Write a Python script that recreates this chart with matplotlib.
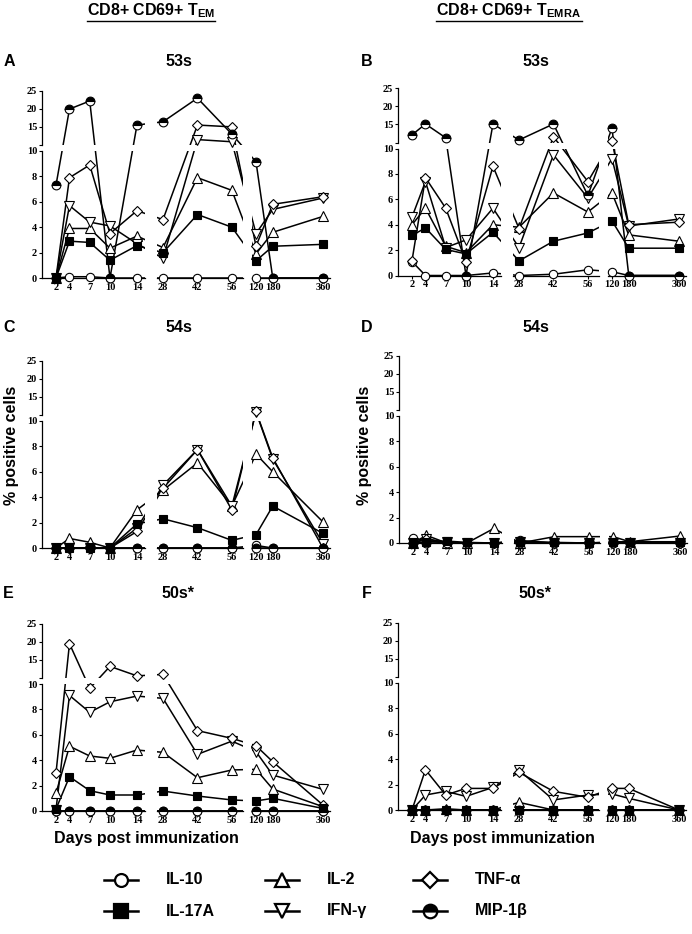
import numpy as np
import matplotlib
matplotlib.use('Agg')
import matplotlib.pyplot as plt
from matplotlib.lines import Line2D

plt.rcParams['font.family'] = ['Liberation Sans', 'DejaVu Sans']
plt.rcParams['mathtext.fontset'] = 'custom'
plt.rcParams['mathtext.bf'] = 'Liberation Sans:bold'
plt.rcParams['mathtext.rm'] = 'Liberation Sans'

W, H = 692, 934

days = np.array([2, 4, 7, 10, 14, 28, 42, 56, 120, 180, 360])
cytokines = ['IL-10', 'IL-17A', 'IL-2', 'IFN-γ', 'TNF-α', 'MIP-1β']
seg_ticks = [[2, 4, 7, 10, 14], [28, 42, 56], [120, 180, 360]]

# % positive cells, one list per cytokine, same order as days
a_il10  = [0, 0.1, 0.1, 0, 0, 0, 0, 0, 0, 0, 0]
a_il17a = [0, 2.9, 2.8, 1.4, 2.55, 2.0, 5.0, 4.0, 1.35, 2.5, 2.65]
a_il2   = [0, 3.9, 3.9, 2.35, 3.3, 2.4, 7.9, 6.9, 1.9, 3.6, 4.85]
a_ifng  = [0, 5.7, 4.4, 4.1, 2.7, 1.55, 11.5, 10.9, 3.5, 5.4, 6.3]
a_tnfa  = [0, 7.9, 8.9, 3.5, 5.3, 4.6, 15.5, 15.0, 2.5, 5.8, 6.4]
a_mip1b = [7.3, 19.9, 22.1, 0, 15.5, 16.4, 22.9, 13.0, 9.15, 0, 0]

b_il10  = [1.1, 0, 0, 0, 0.2, 0, 0.1, 0.45, 0.3, 0, 0]
b_il17a = [3.15, 3.75, 2.05, 1.7, 3.4, 1.15, 2.7, 3.35, 4.3, 2.15, 2.15]
b_il2   = [4.0, 5.3, 2.3, 1.8, 4.0, 3.8, 6.5, 5.0, 6.5, 3.2, 2.7]
b_ifng  = [4.6, 7.4, 2.2, 2.8, 5.3, 2.2, 9.5, 6.1, 9.2, 3.9, 4.45]
b_tnfa  = [1.15, 7.7, 5.3, 1.1, 8.6, 3.7, 11.6, 7.4, 10.5, 4.0, 4.2]
b_mip1b = [12.1, 15.1, 11.3, 0, 15.1, 10.7, 15.1, 6.3, 14.0, 0, 0]

c_il10  = [0, 0, 0, 0, 0, 0, 0, 0, 0.2, 0, 0]
c_il17a = [0, 0, 0, 0, 1.9, 2.3, 1.6, 0.6, 1.05, 3.3, 1.15]
c_il2   = [0, 0.75, 0.45, 0, 3.0, 4.55, 6.7, 3.3, 7.4, 6.0, 2.05]
c_ifng  = [0, 0, 0, 0, 1.55, 4.95, 7.75, 3.3, 10.8, 7.0, 0.35]
c_tnfa  = [0, 0, 0, 0, 1.3, 4.7, 7.75, 3.0, 11.0, 7.1, 0]
c_mip1b = [0, 0, 0, 0, 0, 0, 0, 0, 0, 0, 0]

d_il10  = [0.4, 0.15, 0, 0, 0, 0.2, 0, 0, 0, 0, 0]
d_il17a = [0, 0.1, 0.15, 0.05, 0, 0.1, 0.05, 0, 0.1, 0.1, 0.1]
d_il2   = [0, 0.6, 0, 0, 1.15, 0, 0.5, 0.5, 0.5, 0.1, 0.55]
d_ifng  = [0, 0.3, 0.05, 0, 0, 0.05, 0, 0, 0, 0, 0]
d_tnfa  = [0, 0.35, 0, 0, 0, 0.1, 0, 0, 0, 0, 0]
d_mip1b = [0, 0, 0, 0, 0, 0, 0, 0, 0, 0, 0]

e_il10  = [0, 0, 0, 0, 0, 0, 0, 0, 0, 0, 0]
e_il17a = [0.15, 2.7, 1.6, 1.26, 1.26, 1.57, 1.18, 0.87, 0.79, 1.0, 0.2]
e_il2   = [1.4, 5.1, 4.33, 4.15, 4.8, 4.62, 2.62, 3.23, 3.28, 1.73, 0.34]
e_ifng  = [0.1, 9.1, 7.77, 8.6, 9.05, 8.87, 4.46, 5.5, 4.67, 2.83, 1.7]
e_tnfa  = [2.97, 19.45, 9.66, 13.2, 10.6, 11.0, 6.33, 5.72, 5.14, 3.88, 0.47]
e_mip1b = [0, 0, 0, 0, 0, 0, 0, 0, 0, 0, 0]

f_il10  = [0, 0, 0, 0, 0, 0, 0, 0, 0, 0, 0]
f_il17a = [0, 0, 0, 0, 0, 0, 0, 0, 0, 0, 0]
f_il2   = [0, 0, 0.1, 0, 0, 0.6, 0, 0, 0, 0, 0]
f_ifng  = [0, 1.18, 1.47, 1.07, 1.78, 3.14, 0.79, 1.18, 1.26, 0.92, 0]
f_tnfa  = [0, 3.17, 1.18, 1.7, 1.7, 2.96, 1.47, 1.0, 1.7, 1.7, 0]
f_mip1b = [0, 0, 0, 0, 0, 0, 0, 0, 0, 0, 0]

panel_data = {
    'A': [a_il10, a_il17a, a_il2, a_ifng, a_tnfa, a_mip1b],
    'B': [b_il10, b_il17a, b_il2, b_ifng, b_tnfa, b_mip1b],
    'C': [c_il10, c_il17a, c_il2, c_ifng, c_tnfa, c_mip1b],
    'D': [d_il10, d_il17a, d_il2, d_ifng, d_tnfa, d_mip1b],
    'E': [e_il10, e_il17a, e_il2, e_ifng, e_tnfa, e_mip1b],
    'F': [f_il10, f_il17a, f_il2, f_ifng, f_tnfa, f_mip1b],
}
panel_title = {'A': '53s', 'B': '53s', 'C': '54s', 'D': '54s', 'E': '50s*', 'F': '50s*'}

# layout (pixels): y-spine x, zero line y, label pos, title pos
layout = {
    'A': (42, 278, (9, 61), (179, 61)),
    'B': (398, 275.5, (367, 61), (536, 61)),
    'C': (42, 548, (9, 327), (179, 328)),
    'D': (399, 543, (367, 328), (536, 328)),
    'E': (42, 811, (8, 593), (178, 593)),
    'F': (398, 810, (367, 593), (535, 593)),
}

style = {
    'IL-10':  dict(marker='o', ms=6, mfc='white'),
    'IL-17A': dict(marker='s', ms=6.3, mfc='black'),
    'IL-2':   dict(marker='^', ms=6.5, mfc='white'),
    'IFN-γ':  dict(marker='v', ms=6.5, mfc='white'),
    'TNF-α':  dict(marker='D', ms=5.2, mfc='white'),
    'MIP-1β': dict(marker='o', ms=6.3, mfc='black', fillstyle='top', markerfacecoloralt='white'),
}
draw_order = ['IL-10', 'IL-2', 'IFN-γ', 'TNF-α', 'MIP-1β', 'IL-17A']

# broken axes: piecewise linear scales (day -> px, value -> px)
X_EDGE_D = [-0.07, 15.19, 25.56, 60.52, 105.67, 385.0]
X_EDGE_P = [0, 103, 115, 201, 210, 288]
Y_EDGE_V = [0, 10, 10.01, 25]
Y_EDGE_P = [0, 127, 133, 187.5]

def xfwd(d):
    return np.interp(d, X_EDGE_D, X_EDGE_P)

def xinv(p):
    return np.interp(p, X_EDGE_P, X_EDGE_D)

def yfwd(v):
    return np.interp(v, Y_EDGE_V, Y_EDGE_P)

def yinv(p):
    return np.interp(p, Y_EDGE_P, Y_EDGE_V)

tick_font = dict(family='Liberation Serif', weight='bold', size=7.5)

fig = plt.figure(figsize=(W / 100, H / 100), dpi=100)


def px_axes(left, top, width, height):
    return fig.add_axes([left / W, 1 - (top + height) / H, width / W, height / H])


def draw_panel(key):
    x0, y0, lab_pos, tit_pos = layout[key]
    series = [np.array(s, dtype=float) for s in panel_data[key]]
    for r, (vlo, vhi) in enumerate([(10.01, 25), (0, 10)]):
        for c in range(3):
            dlo, dhi = X_EDGE_D[2 * c], X_EDGE_D[2 * c + 1]
            plo, phi = X_EDGE_P[2 * c], X_EDGE_P[2 * c + 1]
            wlo, whi = yfwd(vlo), yfwd(vhi)
            ax = px_axes(x0 + plo, y0 - whi, phi - plo, whi - wlo)
            ax.set_xscale('function', functions=(xfwd, xinv))
            ax.set_yscale('function', functions=(yfwd, yinv))
            ax.set_xlim(dlo, dhi)
            ax.set_ylim(vlo, vhi)
            ax.patch.set_visible(False)
            for name in draw_order:
                vals = series[cytokines.index(name)]
                ax.plot(days, vals, color='black', lw=1.1, zorder=2)
                inside = (days >= dlo) & (days <= dhi)
                if r == 0:
                    inside &= vals > 10
                else:
                    inside &= vals <= 10
                ax.plot(days[inside], vals[inside], ls='none', mec='black', mew=0.8,
                        clip_on=False, zorder=3, **style[name])
            for s in ['top', 'right']:
                ax.spines[s].set_visible(False)
            ax.spines['left'].set_visible(c == 0)
            ax.spines['bottom'].set_visible(r == 1)
            for s in ax.spines.values():
                s.set_linewidth(0.9)
            ax.minorticks_off()
            ax.tick_params(direction='out', length=2.5, width=0.8, pad=1)
            if r == 1:
                ax.set_xticks(seg_ticks[c])
                ax.set_xticklabels([str(t) for t in seg_ticks[c]], fontdict=tick_font)
            else:
                ax.set_xticks([])
                ax.tick_params(bottom=False)
            if c == 0:
                if r == 0:
                    ax.set_yticks([10.01, 15, 20, 25])
                    ax.set_yticklabels(['', '15', '20', '25'], fontdict=tick_font)
                else:
                    ax.set_yticks([0, 2, 4, 6, 8, 10])
                    ax.set_yticklabels(['0', '2', '4', '6', '8', '10'], fontdict=tick_font)
            else:
                ax.set_yticks([])
                ax.tick_params(left=False)
    fig.text(lab_pos[0] / W, 1 - lab_pos[1] / H, key, ha='center', va='center',
             fontsize=11.5, fontweight='bold')
    fig.text(tit_pos[0] / W, 1 - tit_pos[1] / H, panel_title[key], ha='center', va='center',
             fontsize=11.5, fontweight='bold')


for key in 'ABCDEF':
    draw_panel(key)

# axis titles
for xc in (12, 365):
    fig.text(xc / W, 1 - 445 / H, '% positive cells', rotation=90, ha='center', va='center',
             fontsize=11.5, fontweight='bold')
for xc in (146, 502):
    fig.text(xc / W, 1 - 838 / H, 'Days post immunization', ha='center', va='center',
             fontsize=11.5, fontweight='bold')

headers = [
    fig.text(151 / W, 1 - 11 / H, r'CD8+ CD69+ T$_{\mathbf{EM}}$', ha='center', va='center',
             fontsize=11.5, fontweight='bold'),
    fig.text(509 / W, 1 - 11 / H, r'CD8+ CD69+ T$_{\mathbf{EMRA}}$', ha='center', va='center',
             fontsize=11.5, fontweight='bold'),
]

# legend
lax = fig.add_axes([0, 0, 1, 1])
lax.set_xlim(0, W)
lax.set_ylim(H, 0)
lax.axis('off')
col_x = [121, 282, 430]
row_y = [880, 911]
for i, name in enumerate(cytokines):
    cx, cy = col_x[i // 2], row_y[i % 2]
    st = dict(style[name])
    st['ms'] = st['ms'] * 1.55
    lax.add_line(Line2D([cx - 17, cx + 17], [cy, cy], color='black', lw=1.8))
    lax.add_line(Line2D([cx], [cy], ls='none', mec='black', mew=1.6, **st))
    lax.text(cx + 45, cy, name, ha='left', va='center', fontsize=11.5, fontweight='bold')

fig.canvas.draw()
rend = fig.canvas.get_renderer()
for t in headers:
    bb = t.get_window_extent(rend)
    fig.add_artist(Line2D([bb.x0 / W, bb.x1 / W], [(bb.y0 - 1) / H] * 2,
                          transform=fig.transFigure, color='black', lw=1.0))

fig.savefig('out.png', dpi=100)
